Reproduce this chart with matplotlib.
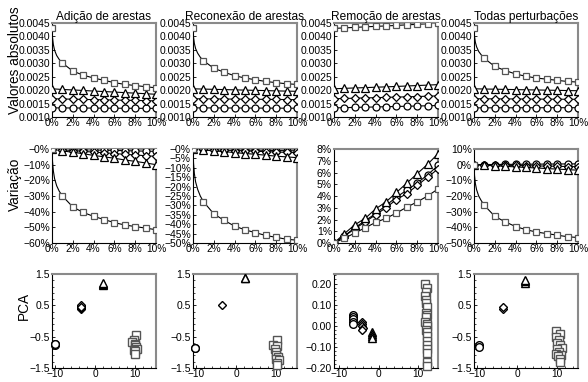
#%%
# Network measures under edge perturbations - 3 rows x 4 columns
import numpy as np
import matplotlib.pyplot as plt
from matplotlib.ticker import AutoMinorLocator

plt.rcParams['font.family'] = ['Liberation Sans', 'DejaVu Sans']

#%%
# perturbation level in % of the edges
x_pct = [0, 1, 2, 3, 4, 5, 6, 7, 8, 9, 10]
# extra points of the steep start of the square curve (between 0% and 1%)
x_early = [0.05, 0.13, 0.25, 0.45, 0.7]

titles = ['Adição de arestas', 'Reconexão de arestas',
          'Remoção de arestas', 'Todas perturbações']

# values with no perturbation (0%)
base_sq = 0.00430
base_tri = 0.00205
base_dia = 0.00168
base_circ = 0.00134

# variation in % (second row), first row = base * (1 + var/100)
add_sq = [0, -30, -37, -40.5, -43, -45, -47, -48.5, -49.5, -50.5, -51.5]
add_sq_early = [-8, -14, -19, -23.5, -27]
add_tri = [0, -1.2, -2.1, -3.0, -4.1, -5.0, -5.9, -7.0, -7.9, -8.9, -10.0]
add_dia = [0, -0.5, -1.0, -1.5, -2.0, -2.4, -2.9, -3.4, -3.8, -4.3, -4.7]
add_circ = [0, -0.2, -0.3, -0.5, -0.6, -0.8, -0.9, -1.1, -1.2, -1.4, -1.5]

rec_sq = [0, -28, -34.5, -38, -41, -43, -44.5, -46, -47, -48, -48.5]
rec_sq_early = [-7.5, -13, -17.5, -21.5, -25]
rec_tri = [0, -0.5, -1.0, -1.4, -1.9, -2.4, -2.8, -3.3, -3.8, -4.2, -4.6]
rec_dia = [0, -0.2, -0.4, -0.6, -0.8, -1.0, -1.2, -1.4, -1.6, -1.8, -2.0]
rec_circ = [0, -0.1, -0.2, -0.3, -0.4, -0.5, -0.6, -0.7, -0.8, -0.9, -1.0]

rem_sq = [0, 0.4, 0.85, 1.3, 1.75, 2.1, 2.55, 3.05, 3.5, 4.0, 4.6]
rem_sq_early = [0.02, 0.05, 0.1, 0.18, 0.28]
rem_tri = [0, 0.8, 1.55, 2.1, 2.9, 3.5, 4.3, 5.1, 5.9, 6.7, 7.6]
rem_dia = [0, 0.6, 1.2, 1.8, 2.4, 3.0, 3.7, 4.2, 4.9, 5.6, 6.3]
rem_circ = [0, 0.6, 1.3, 1.9, 2.5, 3.2, 3.9, 4.5, 5.1, 5.8, 6.6]

all_sq = [0, -26, -33, -36.5, -39.5, -41.5, -43, -44, -45, -46, -46.5]
all_sq_early = [-7, -12, -16, -20, -23]
all_tri = [0, -0.4, -0.7, -1.1, -1.4, -1.8, -2.1, -2.5, -2.8, -3.2, -3.5]
all_dia = [0, -0.1, -0.3, -0.4, -0.5, -0.7, -0.8, -0.9, -1.0, -1.2, -1.3]
all_circ = [0, 0.1, 0.1, 0.2, 0.2, 0.3, 0.3, 0.4, 0.4, 0.5, 0.5]

# PCA coordinates (third row), one list of (x, y) per group
add_pca_circ = [(-10.0, -0.72), (-10.0, -0.75), (-9.9, -0.74)]
add_pca_dia = [(-3.6, 0.38), (-3.5, 0.42), (-3.4, 0.48), (-3.5, 0.50), (-3.6, 0.45)]
add_pca_tri = [(2.0, 1.15), (2.1, 1.18), (2.0, 1.20)]
add_pca_sq = [(10.2, -0.45), (9.6, -0.62), (9.2, -0.68), (10.0, -0.72), (9.9, -0.78),
              (10.3, -0.84), (10.5, -0.88), (9.7, -0.92), (10.0, -0.97), (9.9, -1.05)]

rec_pca_circ = [(-10.2, -0.86), (-10.1, -0.85)]
rec_pca_dia = [(-3.4, 0.52)]
rec_pca_tri = [(2.3, 1.36), (2.2, 1.38)]
rec_pca_sq = [(10.1, -0.62), (9.3, -0.77), (10.3, -0.80), (9.8, -0.90), (10.0, -1.00),
              (9.9, -1.10), (10.5, -1.15), (9.9, -1.22), (10.6, -1.25), (10.1, -1.35),
              (10.3, -1.42)]

rem_pca_circ = [(-6.6, 0.05), (-6.6, 0.04), (-6.6, 0.03), (-6.6, 0.02), (-6.5, 0.01)]
rem_pca_dia = [(-4.2, 0.02), (-4.2, 0.01), (-4.2, 0.0), (-4.1, -0.01), (-4.2, -0.02)]
rem_pca_tri = [(-1.8, -0.03), (-1.8, -0.04), (-1.7, -0.05), (-1.7, -0.06)]
rem_pca_sq = [(12.0, 0.20), (12.3, 0.18), (12.2, 0.16), (12.0, 0.14), (12.1, 0.12),
              (12.2, 0.11), (12.4, 0.09), (12.2, 0.06), (12.3, 0.05), (12.1, 0.04),
              (12.0, 0.02), (12.3, 0.01), (12.4, 0.0), (12.2, -0.02), (12.3, -0.03),
              (12.4, -0.05), (12.5, -0.07), (12.4, -0.09), (12.3, -0.11), (12.5, -0.13),
              (12.4, -0.17), (12.5, -0.19)]

all_pca_circ = [(-9.4, -0.78), (-9.4, -0.82)]
all_pca_dia = [(-3.4, 0.38), (-3.4, 0.44)]
all_pca_tri = [(2.0, 1.22), (2.1, 1.28), (2.0, 1.32)]
all_pca_sq = [(9.8, -0.33), (10.7, -0.43), (9.6, -0.50), (10.4, -0.60), (9.9, -0.70),
              (10.6, -0.75), (11.2, -0.85), (10.0, -0.90), (10.5, -0.98), (9.8, -1.05),
              (11.0, -1.08), (10.2, -1.12), (10.6, -1.20), (10.8, -1.32)]

#%%
# group everything per column
var_cols = [
    (add_sq, add_sq_early, add_tri, add_dia, add_circ),
    (rec_sq, rec_sq_early, rec_tri, rec_dia, rec_circ),
    (rem_sq, rem_sq_early, rem_tri, rem_dia, rem_circ),
    (all_sq, all_sq_early, all_tri, all_dia, all_circ),
]
pca_cols = [
    (add_pca_sq, add_pca_tri, add_pca_dia, add_pca_circ),
    (rec_pca_sq, rec_pca_tri, rec_pca_dia, rec_pca_circ),
    (rem_pca_sq, rem_pca_tri, rem_pca_dia, rem_pca_circ),
    (all_pca_sq, all_pca_tri, all_pca_dia, all_pca_circ),
]

# y axis of the variation row
var_lims = [(-60, 0), (-50, 0), (0, 8), (-50, 10)]
var_steps = [10, 5, 1, 10]

sq_color = '#555555'
# marker shape -> size (diamonds look bigger in matplotlib)
msize = {'s': 5, 'o': 5, '^': 5.5, 'D': 4}


def style_axes(ax):
    for s in ['left', 'bottom']:
        ax.spines[s].set_color('black')
        ax.spines[s].set_linewidth(0.8)
    for s in ['top', 'right']:
        ax.spines[s].set_color('#8a8a8a')
        ax.spines[s].set_linewidth(1.5)
    ax.tick_params(direction='in', length=2.5, width=0.6, pad=1.5)
    ax.tick_params(axis='y', labelsize=7.5)
    ax.tick_params(axis='x', labelsize=7.3, pad=1)


def draw_line(ax, ys, marker, ec, early=None):
    lx = list(x_pct)
    ly = list(ys)
    if early is not None:
        lx = [x_pct[0]] + x_early + x_pct[1:]
        ly = [ys[0]] + list(early) + list(ys[1:])
    ax.plot(lx, ly, color='black', lw=0.8, zorder=2)
    ax.plot(x_pct, ys, ls='none', marker=marker, ms=msize[marker], mfc='white',
            mec=ec, mew=0.9, zorder=3)


def pct_label(v):
    if v == 0:
        return '0%'
    return f'{v:.0f}%'.replace('-', '\u2212')


#%%
fig = plt.figure(figsize=(5.88, 3.82), dpi=100)
W, H = 588, 382
lefts = [52, 193, 334, 474]
tops = [23, 149, 274]
aw, ah = 104, 94

for c in range(4):
    sq, sq_early, tri, dia, circ = var_cols[c]
    bases = [base_sq, base_tri, base_dia, base_circ]

    # row 1 - absolute values
    ax = fig.add_axes([lefts[c] / W, 1 - (tops[0] + ah) / H, aw / W, ah / H])
    style_axes(ax)
    vals = [np.array(v) for v in (sq, tri, dia, circ)]
    abs_vals = [b * (1 + v / 100) for b, v in zip(bases, vals)]
    sq_early_abs = base_sq * (1 + np.array(sq_early) / 100)
    draw_line(ax, abs_vals[3], 'o', 'black')
    draw_line(ax, abs_vals[2], 'D', 'black')
    draw_line(ax, abs_vals[1], '^', 'black')
    draw_line(ax, abs_vals[0], 's', sq_color, sq_early_abs)
    ax.set_xlim(0, 10)
    ax.set_ylim(0.0010, 0.0045)
    yt = [0.0010, 0.0015, 0.0020, 0.0025, 0.0030, 0.0035, 0.0040, 0.0045]
    ax.set_yticks(yt)
    ax.set_yticklabels([f'{v:.4f}' for v in yt])
    ax.set_xticks([0, 2, 4, 6, 8, 10])
    ax.set_xticklabels([f'{v}%' for v in [0, 2, 4, 6, 8, 10]])
    ax.set_title(titles[c], fontsize=8.6, pad=2)
    if c == 0:
        ax.set_ylabel('Valores absolutos', fontsize=9.8)
        ax.yaxis.set_label_coords(-0.285, 0.6)

    # row 2 - variation
    ax = fig.add_axes([lefts[c] / W, 1 - (tops[1] + ah) / H, aw / W, ah / H])
    style_axes(ax)
    draw_line(ax, circ, 'o', 'black')
    draw_line(ax, dia, 'D', 'black')
    draw_line(ax, tri, '^', 'black')
    draw_line(ax, sq, 's', sq_color, sq_early)
    lo, hi = var_lims[c]
    ax.set_xlim(0, 10)
    ax.set_ylim(lo, hi)
    yt = list(range(lo, hi + 1, var_steps[c]))
    ax.set_yticks(yt)
    labs = [pct_label(v) for v in yt]
    if hi == 0:
        labs[-1] = '\u22120%'
    ax.set_yticklabels(labs)
    ax.set_xticks([0, 2, 4, 6, 8, 10])
    ax.set_xticklabels([f'{v}%' for v in [0, 2, 4, 6, 8, 10]])
    if c == 0:
        ax.set_ylabel('Variação', fontsize=9.8)
        ax.yaxis.set_label_coords(-0.285, 0.62)

    # row 3 - PCA
    ax = fig.add_axes([lefts[c] / W, 1 - (tops[2] + ah) / H, aw / W, ah / H])
    style_axes(ax)
    psq, ptri, pdia, pcirc = pca_cols[c]
    for pts, m, ec in [(pcirc, 'o', 'black'), (pdia, 'D', 'black'),
                       (ptri, '^', 'black'), (psq, 's', sq_color)]:
        px = [p[0] for p in pts]
        py = [p[1] for p in pts]
        ax.plot(px, py, ls='none', marker=m, ms=msize[m] + 0.5, mfc='white',
                mec=ec, mew=1.0, zorder=3, clip_on=False)
    ax.set_xticks([-10, 0, 10])
    ax.xaxis.set_minor_locator(AutoMinorLocator(5))
    ax.yaxis.set_minor_locator(AutoMinorLocator(5))
    ax.tick_params(which='minor', direction='in', length=1.5, width=0.5)
    if c == 2:
        ax.set_xlim(-11.4, 15.2)
        ax.set_ylim(-0.2, 0.245)
        yt = [-0.2, -0.1, 0.0, 0.1, 0.2]
        ax.set_yticks(yt)
        ax.set_yticklabels([f'{v:.2f}'.replace('-', '\u2212') for v in yt])
    else:
        ax.set_xlim(-10.7, 15.2)
        ax.set_ylim(-1.5, 1.5)
        ax.set_yticks([-1.5, -0.5, 0.5, 1.5])
    if c == 0:
        ax.set_ylabel('PCA', fontsize=9.8)
        ax.yaxis.set_label_coords(-0.2, 0.66)

fig.savefig('out.png', dpi=100)
